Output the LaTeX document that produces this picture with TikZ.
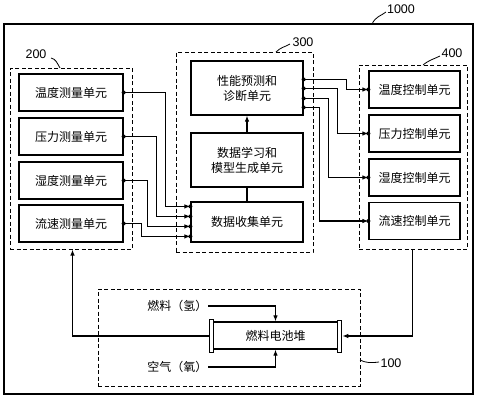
\documentclass[tikz,border=0pt]{standalone}
\usepackage{fontspec}
\setmainfont{Liberation Sans}
\newfontfamily\cjk{Noto Sans CJK SC}
\usetikzlibrary{arrows.meta,calc}
\begin{document}
\begin{tikzpicture}[x=1pt,y=-1pt,
  box/.style={draw,line width=1.2pt,inner sep=0pt,align=center,font=\cjk\fontsize{12}{15}\selectfont},
  grp/.style={draw,line width=1pt,dash pattern=on 4pt off 2.5pt,inner sep=0pt},
  lab/.style={font=\fontsize{12.5}{14}\selectfont,inner sep=0pt},
  wire/.style={line width=1.1pt},
  arr/.style={wire,-{Latex[length=6pt,width=4.5pt]}},
  dot/.style={circle,fill=black,inner sep=0pt,minimum size=4pt}]
\useasboundingbox (0,0) rectangle (480,400);
% outer
\node[box,minimum width=469pt,minimum height=370pt] (outer) at (238.5,209) {};
% groups
\node[grp,minimum width=122pt,minimum height=181pt] (g200) at (71,158.5) {};
\node[grp,minimum width=137pt,minimum height=200pt] (g300) at (244.5,152) {};
\node[grp,minimum width=108pt,minimum height=184pt] (g400) at (413,157) {};
\node[grp,minimum width=262pt,minimum height=97pt] (g100) at (229,337.5) {};
% labels
\node[lab] (l1000) at (401,9) {1000};
\node[lab] (l200) at (36,54) {200};
\node[lab] (l300) at (303,42) {300};
\node[lab] (l400) at (452,53) {400};
\node[lab] (l100) at (391,363) {100};
\draw[wire,line width=0.8pt] (372,24) .. controls (376,16) and (381,16) .. (386,12);
\draw[wire,line width=0.8pt] (51,58) .. controls (56,59) and (57,63) .. (60,68);
\draw[wire,line width=0.8pt] (276,52) .. controls (281,47) and (285,47) .. (290,44);
\draw[wire,line width=0.8pt] (423,65) .. controls (429,60) and (434,59) .. (440,56);
\draw[wire,line width=0.8pt] (360,360) .. controls (366,363) and (371,363) .. (379,362);
% measuring units
\node[box,minimum width=104pt,minimum height=37pt] (m1) at (71,92.5) {温度测量单元};
\node[box,minimum width=104pt,minimum height=37pt] (m2) at (71,136.5) {压力测量单元};
\node[box,minimum width=104pt,minimum height=37pt] (m3) at (71,180.5) {湿度测量单元};
\node[box,minimum width=104pt,minimum height=37pt] (m4) at (71,223.5) {流速测量单元};
% 300 units
\node[box,minimum width=112pt,minimum height=54pt] (perf) at (247,88) {性能预测和\\诊断单元};
\node[box,minimum width=112pt,minimum height=54pt] (learn) at (247,160) {数据学习和\\模型生成单元};
\node[box,minimum width=112pt,minimum height=40pt] (coll) at (247,222) {数据收集单元};
% control units
\node[box,minimum width=91pt,minimum height=37pt] (c1) at (414.5,89.5) {温度控制单元};
\node[box,minimum width=91pt,minimum height=37pt] (c2) at (414.5,133.5) {压力控制单元};
\node[box,minimum width=91pt,minimum height=37pt] (c3) at (414.5,177.5) {湿度控制单元};
\node[box,minimum width=91pt,minimum height=37pt] (c4) at (414.5,221) {流速控制单元};
% stack
\node[box,minimum width=125pt,minimum height=27pt] (stack) at (275.5,335.5) {燃料电池堆};
\node[draw,line width=1pt,fill=white,minimum width=4.5pt,minimum height=33pt,inner sep=0pt] (capL) at (211.5,336) {};
\node[draw,line width=1pt,fill=white,minimum width=4.5pt,minimum height=32pt,inner sep=0pt] (capR) at (339.5,336) {};
\node[box,draw=none,anchor=east] (fuel) at (208,306) {燃料（氢）};
\node[box,draw=none,anchor=east] (air) at (208,367) {空气（氧）};
% entry coordinates on collection box
\coordinate (e1) at ($(coll.north west)+(0,5)$);
\coordinate (e2) at ($(coll.north west)+(0,15)$);
\coordinate (e3) at ($(coll.north west)+(0,25)$);
\coordinate (e4) at ($(coll.north west)+(0,35)$);
\draw[arr] (m1.east) -| ($(e1)+(-25,0)$) -- (e1);
\draw[arr] (m2.east) -| ($(e2)+(-34,0)$) -- (e2);
\draw[arr] (m3.east) -| ($(e3)+(-43,0)$) -- (e3);
\draw[arr] (m4.east) -| ($(e4)+(-49,0)$) -- (e4);
\foreach \n in {m1,m2,m3,m4} \node[dot] at (\n.east) {};
\foreach \n in {e1,e2,e3,e4} \node[dot] at (\n) {};
% internal 300
\draw[wire] (coll.north) -- (learn.south);
\draw[arr] (learn.north) -- (perf.south);
% outputs
\coordinate (p1) at ($(perf.north east)+(0,19)$);
\coordinate (p2) at ($(perf.north east)+(0,28)$);
\coordinate (p3) at ($(perf.north east)+(0,38)$);
\coordinate (p4) at ($(perf.north east)+(0,47)$);
\draw[arr] (p1) -| ($(c1.west)+(-22,0)$) -- (c1.west);
\draw[arr] (p2) -| ($(c2.west)+(-31,0)$) -- (c2.west);
\draw[arr] (p3) -| ($(c3.west)+(-40,0)$) -- (c3.west);
\draw[arr] (p4) -| ($(c4.west)+(-49,0)$) -- (c4.west);
\foreach \n in {p1,p2,p3,p4} \node[dot] at (\n) {};
\foreach \n in {c1,c2,c3,c4} \node[dot] at (\n.west) {};
% stack connections
\draw[arr] (fuel.east) -| (stack.north);
\draw[arr] (air.east) -| (stack.south);
\draw[arr] (capL.west) -| ($(g200.south west)+(63,0)$);
\draw[arr] ($(g400.south west)+(54,0)$) |- (capR.east);
\end{tikzpicture}
\end{document}
